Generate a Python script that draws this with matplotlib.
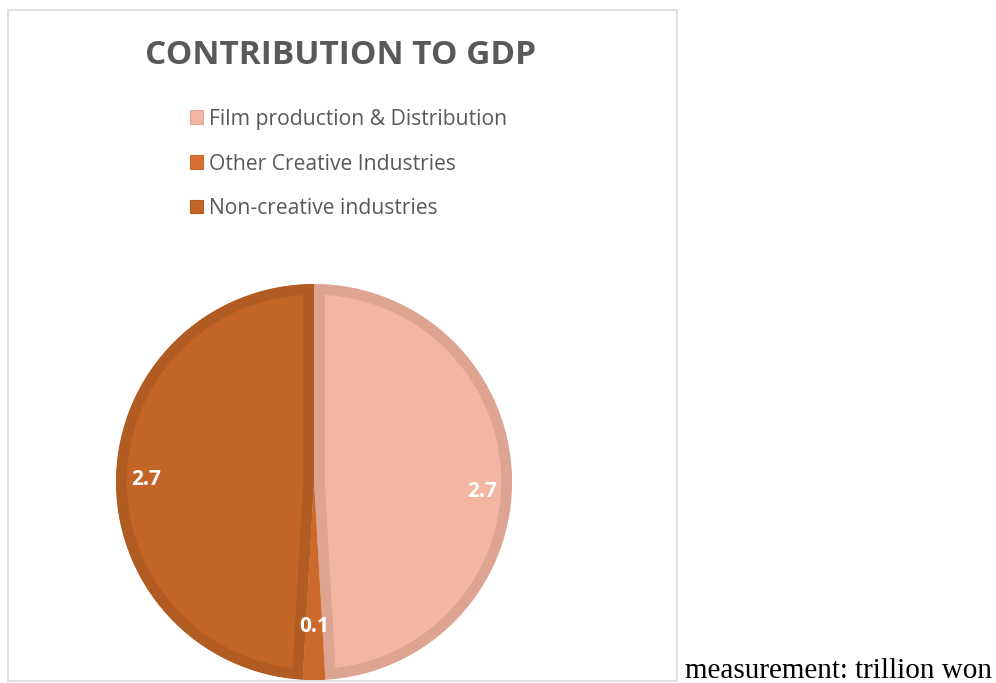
import matplotlib
matplotlib.use("Agg")
import matplotlib.pyplot as plt
import numpy as np
from matplotlib.patches import Rectangle

categories = ["Film production & Distribution", "Other Creative Industries", "Non-creative industries"]
values = [2.7, 0.1, 2.7]
labels = ["2.7", "0.1", "2.7"]
title = "CONTRIBUTION TO GDP"
note = "measurement: trillion won"

fills = ["#F3B6A2", "#D77030", "#C36526"]
edges = ["#DDA591", "#CC6A2D", "#B15C22"]

W, H = 996, 683
fig = plt.figure(figsize=(W / 100, H / 100), dpi=100)

# chart box
fig.patches.append(Rectangle((8 / W, 2 / H), 669 / W, 671 / H, transform=fig.transFigure,
                             fill=False, edgecolor="#D9D9D9", linewidth=1.2))

cx, cy, r = 314, 482, 198
ax = fig.add_axes([(cx - r) / W, (H - cy - r) / H, 2 * r / W, 2 * r / H])
wedges, _ = ax.pie(values, colors=fills, startangle=90, counterclock=False, radius=1,
                   wedgeprops=dict(linewidth=15.5, edgecolor="none"))
ax.set_xlim(-1, 1)
ax.set_ylim(-1, 1)
ax.set_aspect("equal")
ax.axis("off")
for w, ec in zip(wedges, edges):
    w.set_edgecolor(ec)
    w.set_clip_on(True)
    w.set_clip_path(w.get_path(), w.get_transform())

# data labels (inside end)
label_r = [0.85, 0.73, 0.85]
label_shift = [-5.0, 0.0, 0.8]
for w, lab, rf, sh in zip(wedges, labels, label_r, label_shift):
    ang = np.deg2rad((w.theta1 + w.theta2) / 2 + sh)
    ax.text(rf * np.cos(ang), rf * np.sin(ang), lab, ha="center", va="center",
            color="white", fontsize=15, fontweight="bold", family="Open Sans")

fig.text(341 / W, 1 - 55 / H, title, ha="center", va="center", fontsize=24,
         fontweight="bold", color="#595959", family="Open Sans")

# legend
leg_y = [117, 162, 206.5]
for cat, f, e, y in zip(categories, fills, edges, leg_y):
    fig.patches.append(Rectangle((189.5 / W, 1 - (y + 6.5) / H), 13 / W, 13 / H,
                                 transform=fig.transFigure, facecolor=f, edgecolor=e, linewidth=0.8))
    fig.text(209 / W, 1 - y / H, cat, ha="left", va="center_baseline", fontsize=15.2,
             family="Open Sans", color="#595959")

fig.text(685 / W, 1 - 678 / H, note, ha="left", va="baseline", fontsize=21,
         family="Liberation Serif", color="black")

fig.savefig("out.png", dpi=100)
